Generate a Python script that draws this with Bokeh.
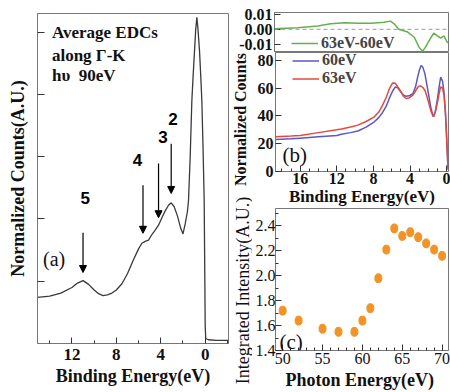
import math
from bokeh.plotting import figure
from bokeh.layouts import row, column
from bokeh.models import (Range1d, FixedTicker, PrintfTickFormatter, Arrow, NormalHead,
                          Label, Legend, LegendItem, Span, ColumnDataSource)
from bokeh.core.properties import value
from bokeh.embed import file_html
from bokeh.resources import INLINE

# ---------------- data: panel (a) average EDC along Gamma-K, hv = 90 eV
edc_energy = [15.1, 14.0, 13.0, 12.0, 11.5, 11.0, 10.5, 10.0, 9.6, 9.2,
              8.8, 8.4, 8.0, 7.5, 7.0, 6.5, 6.0, 5.7, 5.4, 5.1,
              4.8, 4.5, 4.2, 3.9, 3.6, 3.3, 3.06, 2.8, 2.5, 2.2,
              2.0, 1.8, 1.6, 1.5, 1.35, 1.2, 1.1, 0.96, 0.85, 0.75,
              0.65, 0.51, 0.4, 0.3, 0.2, 0.09, 0.03, 0.0, -0.05, -0.3,
              -1.0, -2.1]
edc_counts = [0.74, 0.76, 0.81, 0.90, 0.97, 1.01, 0.95, 0.86, 0.80, 0.77,
              0.78, 0.81, 0.86, 0.96, 1.12, 1.33, 1.52, 1.61, 1.64, 1.66,
              1.75, 1.82, 1.90, 2.02, 2.13, 2.22, 2.26, 2.20, 2.05, 1.85,
              1.76, 1.92, 2.12, 2.30, 3.00, 3.90, 4.25, 4.70, 5.05, 5.24,
              5.05, 4.70, 4.30, 3.90, 3.20, 2.30, 1.00, 0.30, 0.08, 0.06,
              0.05, 0.05]
peak_ids = ["2", "3", "4", "5"]
peak_energy = [3.06, 4.2, 5.6, 11.0]
arrow_top = [3.21, 2.89, 2.54, 1.78]
arrow_tip = [2.41, 2.02, 1.77, 1.14]
peak_label_energy = [2.9, 3.8, 6.1, 10.8]
peak_label_height = [3.61, 3.31, 2.94, 2.34]
note_lines = ["Average EDCs", "along \u0393-K", "h\u03c5\u00a0 90eV"]
note_height = [5.0, 4.62, 4.30]

# ---------------- data: panel (b)
be_energy = [18.7, 17, 16, 14, 12, 11.5, 10.5, 9.7, 8.8, 7.9,
             7.4, 7.0, 6.6, 6.25, 5.9, 5.6, 5.3, 5.0, 4.7, 4.44,
             4.1, 3.7, 3.4, 3.17, 3.0, 2.8, 2.6, 2.38, 2.15, 1.9,
             1.7, 1.45, 1.25, 1.0, 0.8, 0.65, 0.45, 0.29, 0.12, 0.0,
             -0.14, -0.2]
counts_60 = [23, 23.5, 24, 25, 26, 26.8, 28, 29.2, 32, 35.8,
             39, 42.5, 47, 53, 58, 60.9, 60, 57.3, 55, 54.2,
             54.5, 56, 61, 68, 72.5, 76.4, 75, 70.5, 62, 52.6,
             45, 39.4, 43, 52.6, 62, 68, 65, 57.3, 40, 24,
             2.6, 1]
counts_63 = [25, 25.5, 26, 28, 30, 30.6, 32, 33.4, 36, 39.4,
             43, 47.8, 53.5, 59.7, 63.8, 63.5, 60.5, 57.5, 54, 52.6,
             53, 55, 58, 60.5, 61.6, 61.5, 60.5, 58.5, 54, 47.8,
             43, 39.4, 42.5, 50, 57, 61, 60, 55, 42, 24,
             2.6, 1]
diff_energy = [18.7, 16.2, 14, 12.6, 11.1, 9.7, 8.2, 6.8, 6.1, 5.7,
               5.2, 4.3, 3.5, 3.0, 2.6, 2.3, 1.7, 1.4, 1.0, 0.65,
               0.3, -0.07, -0.2]
diff_counts = [0.0004, 0.001, 0.0022, 0.0037, 0.0044, 0.0041, 0.0041, 0.0048, 0.0055, 0.0037,
               0.0, -0.0016, -0.0055, -0.012, -0.0147, -0.012, -0.0055, -0.0026, -0.0044, -0.006,
               -0.0044, -0.0088, -0.009]

# ---------------- data: panel (c)
photon_energy = [50, 52, 55, 57, 59, 60, 61, 62, 63, 64, 65, 66, 67, 68, 69, 70]
integrated_intensity = [1.72, 1.64, 1.575, 1.55, 1.55, 1.64, 1.74, 1.98, 2.21, 2.38,
                        2.32, 2.35, 2.31, 2.26, 2.21, 2.16]

SERIF = "Liberation Serif, DejaVu Serif, serif"
SANS = "Liberation Sans, DejaVu Sans, sans-serif"
GREEN = "#63B04F"
BLUE = "#5858C6"
RED = "#E8473E"
ORANGE = "#F39325"


def base_style(p, tick_size, tick_style, label_size):
    p.xgrid.visible = False
    p.ygrid.visible = False
    p.outline_line_color = "#777777"
    p.background_fill_color = "white"
    p.border_fill_color = "white"
    for ax in p.axis:
        ax.major_tick_in = 6
        ax.major_tick_out = 0
        ax.minor_tick_in = 3
        ax.minor_tick_out = 0
        ax.axis_line_color = "#777777"
        ax.major_tick_line_color = "#333333"
        ax.minor_tick_line_color = "#333333"
        ax.major_label_text_font = SERIF
        ax.major_label_text_font_style = tick_style
        ax.major_label_text_font_size = tick_size
        ax.major_label_text_color = "#111111"
        ax.major_label_standoff = 2
        ax.axis_label_text_font = SERIF
        ax.axis_label_text_font_style = "bold"
        ax.axis_label_text_font_size = label_size
        ax.axis_label_text_color = "#111111"
        ax.axis_label_standoff = 1


# ---------------- panel (a)
pa = figure(width=230, height=392, x_range=Range1d(15.1, -2.1), y_range=Range1d(0, 5.3),
            output_backend="svg", toolbar_location=None,
            min_border_left=37, min_border_right=2, min_border_top=13, min_border_bottom=49)
base_style(pa, "17px", "bold", "18px")
pa.xaxis.ticker = FixedTicker(ticks=[12, 8, 4, 0], minor_ticks=[14, 10, 6, 2, -2])
pa.xaxis.major_label_standoff = 5
pa.yaxis.ticker = FixedTicker(ticks=[], minor_ticks=[1, 2, 3, 4, 5])
pa.yaxis.minor_tick_in = 7
pa.yaxis.axis_label = "Normalized Counts(A.U.)"
pa.yaxis.axis_label_standoff = 10
pa.xaxis.axis_label = "Binding Energy(eV)"
pa.xaxis.axis_label_standoff = 3
pa.line(edc_energy, edc_counts, line_color="#3a3a3a", line_width=1.3)
arrow_src = ColumnDataSource(dict(x=peak_energy, y0=arrow_top, y1=arrow_tip))
pa.add_layout(Arrow(end=NormalHead(size=7, fill_color="black", line_color="black", line_width=1),
                    x_start="x", y_start="y0", x_end="x", y_end="y1", source=arrow_src,
                    line_color="black", line_width=1.2))
pa.text(x=peak_label_energy, y=peak_label_height, text=peak_ids, text_font=value(SANS),
        text_font_style="bold", text_font_size="17px", text_align="center",
        text_baseline="middle", text_color="black")
for t, yv in zip(note_lines, note_height):
    pa.add_layout(Label(x=13.8, y=yv, text=t, text_font=SERIF, text_font_style="bold",
                        text_font_size="17px", text_baseline="middle", text_color="#111111"))
pa.add_layout(Label(x=14.6, y=1.36, text="(a)", text_font=SERIF, text_font_size="20px",
                    text_baseline="middle", text_color="#111111"))

# ---------------- panel (b) top: difference
xb = Range1d(18.7, -0.2)
pb1 = figure(width=220, height=52, x_range=xb, y_range=Range1d(-0.0156, 0.0113),
             x_axis_type=None, output_backend="svg", toolbar_location=None,
             min_border_left=44, min_border_right=2, min_border_top=12, min_border_bottom=0)
base_style(pb1, "16px", "bold", "16px")
pb1.yaxis.ticker = FixedTicker(ticks=[-0.01, 0, 0.01], minor_ticks=[])
pb1.yaxis.formatter = PrintfTickFormatter(format="%.2f")
pb1.add_layout(Span(location=0, dimension="width", line_color="#999999",
                    line_dash="4 3", line_width=1))
g = pb1.line(diff_energy, diff_counts, line_color=GREEN, line_width=1.5)
leg1 = Legend(items=[LegendItem(label="63eV-60eV", renderers=[g])], location=(17, 0),
              label_text_font=SERIF, label_text_font_style="bold", label_text_font_size="16px",
              glyph_width=27, glyph_height=16, label_height=16, label_standoff=3,
              padding=0, margin=0, spacing=0, border_line_color=None, background_fill_alpha=0)
pb1.add_layout(leg1, "center")

# ---------------- panel (b) bottom: EDCs
pb2 = figure(width=198, height=156, x_range=xb, y_range=Range1d(0, 85.7),
             output_backend="svg", toolbar_location=None,
             min_border_left=22, min_border_right=2, min_border_top=0, min_border_bottom=36)
base_style(pb2, "16px", "bold", "17px")
pb2.xaxis.ticker = FixedTicker(ticks=[16, 12, 8, 4, 0],
                               minor_ticks=[18, 17, 15, 14, 13, 11, 10, 9, 7, 6, 5, 3, 2, 1])
pb2.yaxis.ticker = FixedTicker(ticks=[0, 20, 40, 60, 80], minor_ticks=[])
pb2.xaxis.axis_label = "Binding Energy(eV)"
pb2.xaxis.major_label_standoff = 1
pb2.xaxis.axis_label_standoff = 0
rb = pb2.line(be_energy, counts_60, line_color=BLUE, line_width=1.5)
rr = pb2.line(be_energy, counts_63, line_color=RED, line_width=1.5)
leg2 = Legend(items=[LegendItem(label="60eV", renderers=[rb]), LegendItem(label="63eV", renderers=[rr])],
              location=(17, 84),
              label_text_font=SERIF, label_text_font_style="bold", label_text_font_size="16px",
              glyph_width=27, glyph_height=17, label_height=17, label_standoff=3,
              padding=0, margin=0, spacing=0, border_line_color=None, background_fill_alpha=0)
pb2.add_layout(leg2, "center")
pb2.add_layout(Label(x=17.94, y=12, text="(b)", text_font=SERIF, text_font_size="21px",
                     text_baseline="middle", text_color="#111111"))

# ---------------- strip holding the long vertical titles of (b) and (c)
strip = figure(width=22, height=340, x_range=Range1d(0, 1), y_range=Range1d(0, 340),
               x_axis_type=None, y_axis_type=None, output_backend="svg", toolbar_location=None,
               min_border=0, outline_line_color=None)
strip.xgrid.visible = False
strip.ygrid.visible = False
strip.text(x=[0.45], y=[273], text=["Normalized Counts"], angle=math.pi / 2,
           text_font=value(SERIF), text_font_style="bold", text_font_size="16px",
           text_align="center", text_baseline="middle", text_color="#111111")
strip.text(x=[0.55], y=[102], text=["Integrated Intensity(A.U.)"], angle=math.pi / 2,
           text_font=value(SERIF), text_font_style="normal", text_font_size="18px",
           text_align="center", text_baseline="middle", text_color="#111111")

# ---------------- panel (c)
pc = figure(width=198, height=184, x_range=Range1d(49.1, 70.8), y_range=Range1d(1.4, 2.54),
            output_backend="svg", toolbar_location=None,
            min_border_left=22, min_border_right=2, min_border_top=0, min_border_bottom=40)
base_style(pc, "16px", "normal", "18px")
pc.yaxis.major_label_standoff = 0
pc.xaxis.ticker = FixedTicker(ticks=[50, 55, 60, 65, 70], minor_ticks=list(range(49, 71)))
pc.yaxis.ticker = FixedTicker(ticks=[1.4, 1.6, 1.8, 2.0, 2.2, 2.4],
                              minor_ticks=[1.5, 1.7, 1.9, 2.1, 2.3, 2.5])
pc.yaxis.formatter = PrintfTickFormatter(format="%.1f")
pc.xaxis.axis_label = "Photon  Energy(eV)"
pc.xaxis.axis_label_standoff = 3
pc.ellipse(x=photon_energy, y=integrated_intensity, width=7, height=9,
           width_units="screen", height_units="screen",
           fill_color=ORANGE, line_color=ORANGE)
pc.add_layout(Label(x=49.6, y=1.47, text="(c)", text_font=SERIF, text_font_size="21px",
                    text_baseline="middle", text_color="#111111"))

layout = row(pa, column(pb1, row(strip, column(pb2, pc))))
open("out.html", "w").write(file_html(layout, INLINE, "chart"))
